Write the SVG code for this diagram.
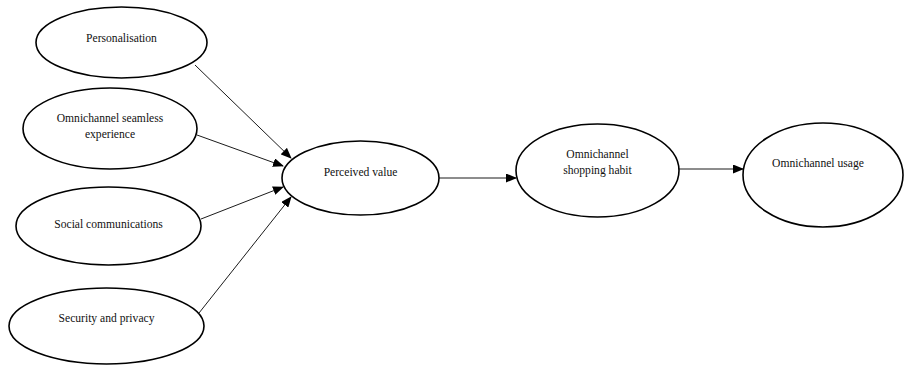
<svg xmlns="http://www.w3.org/2000/svg" width="907" height="365" viewBox="0 0 907 365">
  <style>
    .node ellipse { fill: #fff; stroke: #000; stroke-width: 1.6; }
    .node text { font-family: "Liberation Serif", "Times New Roman", serif; font-size: 11.6px; fill: #111; text-anchor: middle; }
    .edge { stroke: #000; stroke-width: 0.9; fill: none; marker-end: url(#arrow); }
  </style>
  <defs>
    <marker id="arrow" markerUnits="userSpaceOnUse" markerWidth="11" markerHeight="9" refX="10" refY="4.5" orient="auto">
      <path d="M0,0 L11,4.5 L0,9 Z" fill="#000"/>
    </marker>
  </defs>
  <rect width="907" height="365" fill="#fff"/>

  <g id="connectors">
    <line class="edge" x1="195" y1="65" x2="291" y2="158"/>
    <line class="edge" x1="197" y1="135" x2="283" y2="166"/>
    <line class="edge" x1="201" y1="219" x2="283" y2="187"/>
    <line class="edge" x1="199" y1="313" x2="291" y2="197"/>
    <line class="edge" x1="439" y1="178" x2="516" y2="178"/>
    <line class="edge" x1="679" y1="169" x2="743" y2="169"/>
  </g>

  <g id="personalisation" class="node">
    <ellipse cx="121.5" cy="42.5" rx="85.5" ry="35.5"/>
    <text x="121.5" y="42">Personalisation</text>
  </g>

  <g id="seamless-experience" class="node">
    <ellipse cx="110" cy="128.5" rx="87" ry="40.5"/>
    <text x="110" y="122">Omnichannel seamless</text>
    <text x="110" y="138">experience</text>
  </g>

  <g id="social-communications" class="node">
    <ellipse cx="108.5" cy="226" rx="92.5" ry="39"/>
    <text x="108.5" y="228">Social communications</text>
  </g>

  <g id="security-privacy" class="node">
    <ellipse cx="106.5" cy="326" rx="97.5" ry="38"/>
    <text x="106.5" y="322">Security and privacy</text>
  </g>

  <g id="perceived-value" class="node">
    <ellipse cx="360.5" cy="178" rx="78.5" ry="37"/>
    <text x="360.5" y="176">Perceived value</text>
  </g>

  <g id="shopping-habit" class="node">
    <ellipse cx="597.5" cy="170.5" rx="81.5" ry="46.5"/>
    <text x="597.5" y="158">Omnichannel</text>
    <text x="597.5" y="174">shopping habit</text>
  </g>

  <g id="omnichannel-usage" class="node">
    <ellipse cx="823" cy="175" rx="80" ry="52"/>
    <text x="818" y="167">Omnichannel usage</text>
  </g>
</svg>
